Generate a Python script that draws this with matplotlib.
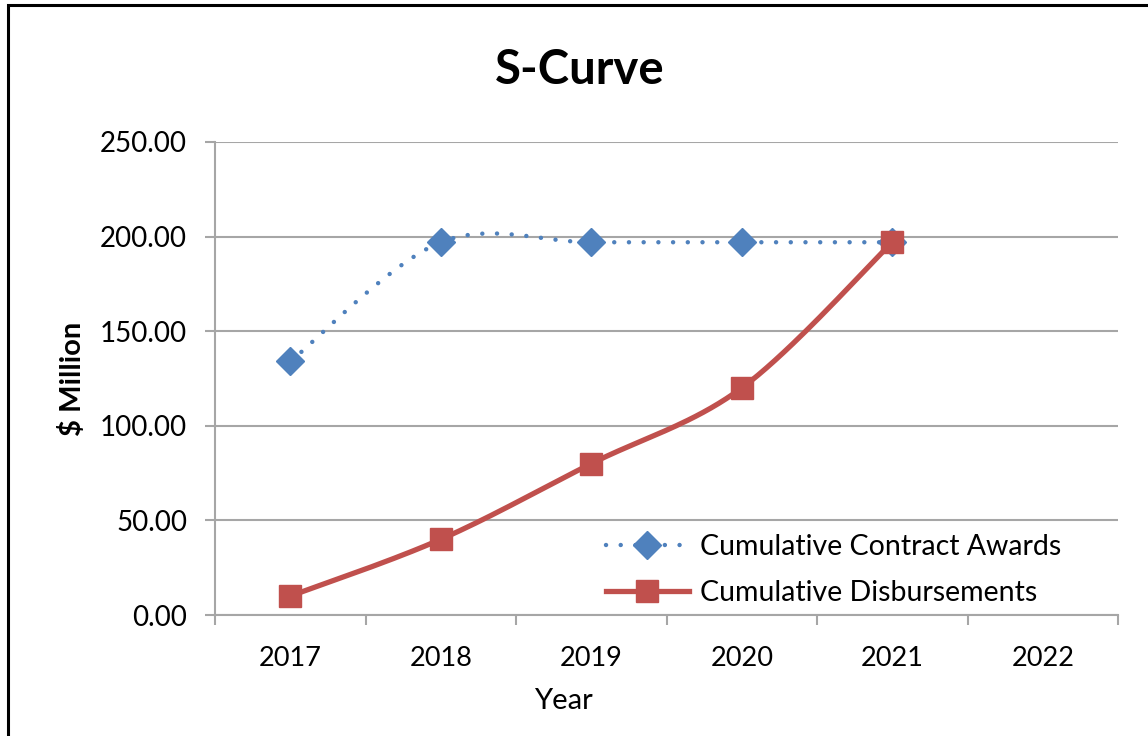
import matplotlib.pyplot as plt
import numpy as np
from matplotlib.patches import Rectangle

years = ['2017', '2018', '2019', '2020', '2021', '2022']
contract_awards = [134, 197, 197, 197, 197]
disbursements = [10, 40, 80, 120, 197]
y_ticks = [0, 50, 100, 150, 200, 250]

BLUE = '#4F81BD'
RED = '#C0504D'
GRID = '#A6A6A6'


def smooth(xs, ys, n=40):
    """Excel-like smoothed line: Catmull-Rom through the points."""
    xs = np.asarray(xs, float)
    ys = np.asarray(ys, float)
    px = np.concatenate([[xs[0]], xs, [xs[-1]]])
    py = np.concatenate([[ys[0]], ys, [ys[-1]]])
    out_x, out_y = [], []
    for i in range(1, len(px) - 2):
        p0, p1, p2, p3 = (np.array([px[j], py[j]]) for j in (i - 1, i, i + 1, i + 2))
        c1 = p1 + (p2 - p0) / 6
        c2 = p2 - (p3 - p1) / 6
        t = np.linspace(0, 1, n)[:, None]
        b = ((1 - t) ** 3) * p1 + 3 * ((1 - t) ** 2) * t * c1 + 3 * (1 - t) * t ** 2 * c2 + t ** 3 * p2
        out_x.extend(b[:, 0])
        out_y.extend(b[:, 1])
    return np.array(out_x), np.array(out_y)


plt.rcParams['font.family'] = ['Lato', 'DejaVu Sans']

fig = plt.figure(figsize=(11.48, 7.36), dpi=100)
ax = fig.add_axes([0.1873, 0.1644, 0.9739 - 0.1873, 0.8071 - 0.1644])

# outer frame (left and top edges of the chart area)
fig.patches.append(Rectangle((0.007, -0.01), 1.2, 1.003, transform=fig.transFigure,
                             fill=False, edgecolor='black', linewidth=2.2))

xc = np.arange(len(contract_awards))
sx, sy = smooth(xc, contract_awards)
ax.plot(sx, sy, color=BLUE, lw=3.2, linestyle=(0, (0.01, 3.3)),
        dash_capstyle='round', zorder=3)
ax.plot(xc, contract_awards, linestyle='none', marker='D', markersize=14,
        color=BLUE, zorder=4)

xd = np.arange(len(disbursements))
dx, dy = smooth(xd, disbursements)
ax.plot(dx, dy, color=RED, lw=3.8, solid_capstyle='round', zorder=3)
ax.plot(xd, disbursements, linestyle='none', marker='s', markersize=16,
        color=RED, zorder=4)

# legend proxies
ax.plot([], [], color=BLUE, lw=3.2, linestyle=(0, (0.01, 3.3)), dash_capstyle='round',
        marker='D', markersize=14, label='Cumulative Contract Awards')
ax.plot([], [], color=RED, lw=3.8, marker='s', markersize=16,
        label='Cumulative Disbursements')
h, l = ax.get_legend_handles_labels()
ax.legend(h[-2:], l[-2:], loc='center left', bbox_to_anchor=(0.433, 0.095), frameon=False,
          fontsize=20.5, handlelength=2.9, handletextpad=0.4, labelspacing=0.72,
          borderaxespad=0.0, borderpad=0.0)

ax.set_xlim(-0.5, len(years) - 0.5)
ax.set_ylim(0, 250)
ax.set_yticks(y_ticks)
ax.set_yticklabels([f'{v:.2f}' for v in y_ticks], fontsize=20)
ax.set_xticks(np.arange(len(years)))
ax.set_xticklabels(years, fontsize=19.5)
ax.set_xticks(np.arange(len(years) + 1) - 0.5, minor=True)
ax.tick_params(axis='x', which='major', length=0, pad=22)
ax.tick_params(axis='x', which='minor', length=7, width=1.5, color=GRID, direction='out')
ax.tick_params(axis='y', length=7, width=1.5, color=GRID, pad=13)

ax.grid(axis='y', color=GRID, linewidth=1.5)
ax.set_axisbelow(True)
for s in ('top', 'right'):
    ax.spines[s].set_visible(False)
for s in ('left', 'bottom'):
    ax.spines[s].set_color(GRID)
    ax.spines[s].set_linewidth(1.5)

fig.text(0.505, 0.905, 'S-Curve', fontsize=34, fontweight='bold', ha='center', va='center')
fig.text(0.491, 0.048, 'Year', fontsize=21, ha='center', va='center')
ax.set_ylabel('$ Million', fontsize=21, fontweight='bold', labelpad=10)

fig.savefig('out.png', dpi=100)
